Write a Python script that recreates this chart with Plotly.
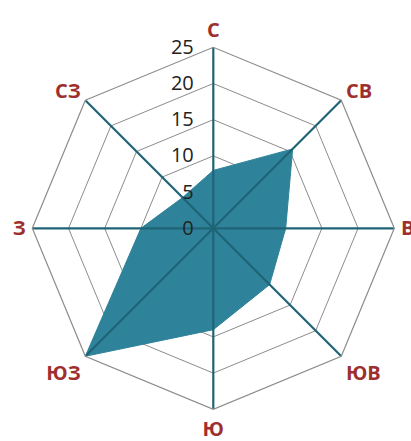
import plotly.graph_objects as go

# Wind directions (clockwise from north) and frequency per direction
directions = ["С", "СВ", "В", "ЮВ", "Ю", "ЮЗ", "З", "СЗ"]
frequency = [8, 15.5, 10, 11, 14, 25, 10, 6]
radial_ticks = [0, 5, 10, 15, 20, 25]
r_max = 25

W, H = 411, 441
cx, cy, R = 213.3, 228.3, 181.0  # centre and radius in pixels

fill_color = "#2E8299"
spoke_color = "#1F6476"
grid_color = "#8C8C8C"
label_color = "#9E2F2F"

fig = go.Figure()

# filled rose polygon
fig.add_trace(go.Scatterpolar(
    r=frequency + frequency[:1],
    theta=directions + directions[:1],
    mode="lines",
    fill="toself",
    fillcolor=fill_color,
    line=dict(color=fill_color, width=1),
    hoverinfo="skip",
    showlegend=False,
))

# direction spokes drawn over the fill
for d in directions:
    fig.add_trace(go.Scatterpolar(
        r=[0, r_max],
        theta=[d, d],
        mode="lines",
        line=dict(color=spoke_color, width=2.2),
        hoverinfo="skip",
        showlegend=False,
    ))

fig.update_layout(
    width=W, height=H,
    margin=dict(l=0, r=0, t=0, b=0),
    paper_bgcolor="white",
    plot_bgcolor="white",
    showlegend=False,
    polar=dict(
        domain=dict(x=[(cx - R) / W, (cx + R) / W],
                    y=[(H - cy - R) / H, (H - cy + R) / H]),
        bgcolor="white",
        gridshape="linear",
        radialaxis=dict(
            range=[0, r_max],
            tickvals=radial_ticks,
            ticktext=[str(v) for v in radial_ticks],
            angle=90,
            side="counterclockwise",
            showline=False,
            ticks="outside",
            ticklen=12,
            tickcolor="rgba(0,0,0,0)",
            tickangle=90,
            gridcolor=grid_color,
            gridwidth=1.2,
            tickfont=dict(family="Open Sans", size=20, color="#222222"),
        ),
        angularaxis=dict(
            categoryarray=directions,
            categoryorder="array",
            rotation=90,
            direction="clockwise",
            showline=True,
            linecolor=grid_color,
            linewidth=1.2,
            showgrid=False,
            ticks="outside",
            ticklen=2,
            tickcolor="rgba(0,0,0,0)",
            tickfont=dict(family="Open Sans", size=20, color=label_color, weight="bold"),
        ),
    ),
)

fig.write_html("out.html")
